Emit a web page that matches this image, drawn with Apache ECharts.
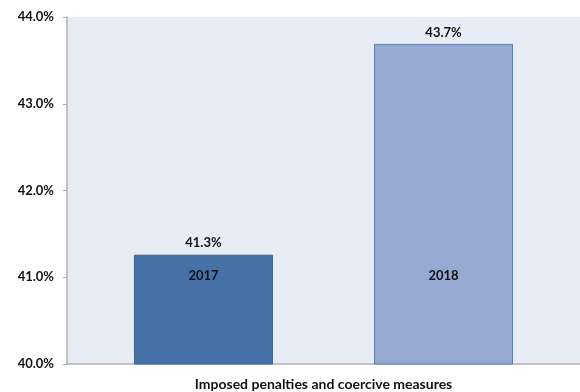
<!DOCTYPE html>
<html>
<head>
<meta charset="utf-8">
<script src="https://cdn.jsdelivr.net/npm/echarts@6/dist/echarts.min.js"></script>
<style>
html,body{margin:0;padding:0;background:#fff;}
#chart{width:580px;height:392px;}
</style>
</head>
<body>
<div id="chart"></div>
<script>
const categories = ["Imposed penalties and coercive measures"];
const seriesNames = ["2017", "2018"];
const values2017 = [41.26];
const values2018 = [43.69];
const yTicks = [40, 41, 42, 43, 44];

const colors = ["#4672a7", "#95a9d1"];
const borders = ["#3d6394", "#5f7fb0"];
const FONT = "Lato, 'Open Sans', sans-serif";

function makeSeries(name, vals, idx) {
  return {
    name: name,
    type: "bar",
    data: vals,
    barWidth: 139,
    barGap: "72.7%",
    itemStyle: { color: colors[idx], borderColor: borders[idx], borderWidth: 1 },
    label: {
      show: true,
      position: "insideBottom",
      distance: 5,
      offset: [0, -77],
      formatter: "{a}",
      color: "#111",
      fontWeight: "bold",
      fontSize: 13,
      fontFamily: FONT
    },
    markPoint: {
      symbol: "circle",
      symbolSize: 0,
      silent: true,
      label: {
        show: true,
        position: "top",
        distance: 5,
        formatter: p => p.value.toFixed(1) + "%",
        color: "#111",
        fontWeight: "bold",
        fontSize: 13,
        fontFamily: FONT
      },
      data: vals.map((v, i) => ({ coord: [i, v], value: v }))
    }
  };
}

const chart = echarts.init(document.getElementById("chart"), null, { renderer: "canvas" });
chart.setOption({
  animation: false,
  grid: {
    left: 67, right: 0, top: 17, bottom: 28,
    show: true, backgroundColor: "#e8ecf5", borderWidth: 0
  },
  xAxis: {
    type: "category",
    data: categories,
    axisLine: { show: true, lineStyle: { color: "#b0b0b0", width: 1.5 } },
    axisTick: { show: false },
    axisLabel: { color: "#111", fontWeight: "bold", fontSize: 14, fontFamily: FONT, margin: 13 }
  },
  yAxis: {
    type: "value",
    min: yTicks[0],
    max: yTicks[yTicks.length - 1],
    interval: 1,
    axisLine: { show: true, lineStyle: { color: "#b0b0b0", width: 1.5 } },
    axisTick: { show: true, length: 4, lineStyle: { color: "#b0b0b0" } },
    splitLine: { show: false },
    axisLabel: {
      color: "#111", fontWeight: "bold", fontSize: 13, fontFamily: FONT, margin: 13,
      formatter: v => v.toFixed(1) + "%"
    }
  },
  series: [
    makeSeries(seriesNames[0], values2017, 0),
    makeSeries(seriesNames[1], values2018, 1)
  ]
});
</script>
</body>
</html>
